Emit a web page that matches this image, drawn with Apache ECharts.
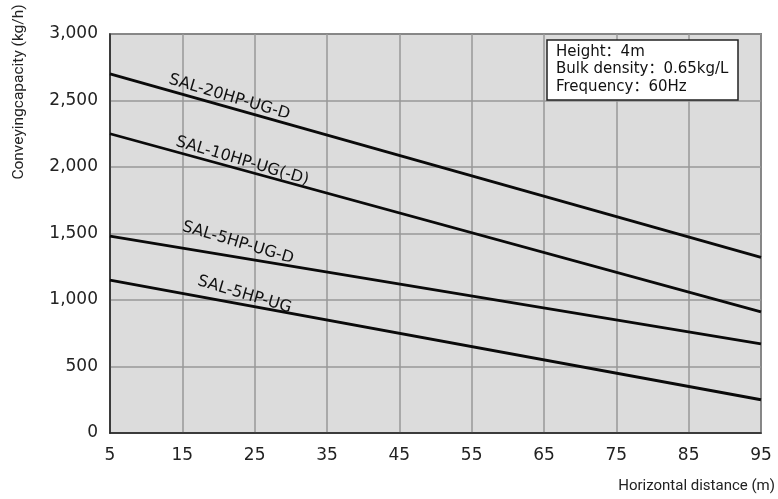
<!DOCTYPE html>
<html><head><meta charset="utf-8">
<script src="https://cdn.jsdelivr.net/npm/echarts@6/dist/echarts.min.js"></script>
<style>html,body{margin:0;padding:0;background:#fff}#c{width:778px;height:499px}</style>
</head><body><div id="c"></div>
<script>
// Data
const distances = [5, 95];                 // Horizontal distance (m)
const sal20HPUGD = [2700, 1320];           // SAL-20HP-UG-D
const sal10HPUGD = [2250, 910];            // SAL-10HP-UG(-D)
const sal5HPUGD  = [1480, 670];            // SAL-5HP-UG-D
const sal5HPUG   = [1150, 250];            // SAL-5HP-UG
const seriesNames = ['SAL-20HP-UG-D', 'SAL-10HP-UG(-D)', 'SAL-5HP-UG-D', 'SAL-5HP-UG'];
const labelAnchors = [[21.5, 2525], [23.3, 2045], [22.7, 1430], [23.6, 1040]];
const noteLines = ['Height：4m', 'Bulk density：0.65kg/L', 'Frequency：60Hz'];
const xAxisName = 'Horizontal distance (m)';
const yAxisName = 'Conveyingcapacity (kg/h)';

const allValues = [sal20HPUGD, sal10HPUGD, sal5HPUGD, sal5HPUG];
const font = 'DejaVu Sans';
const noteFont = '"DejaVu Sans", "Noto Sans CJK SC"';

const chart = echarts.init(document.getElementById('c'), null, {renderer: 'canvas'});
const series = allValues.map((vals, i) => ({
  name: seriesNames[i],
  type: 'line',
  data: vals.map((v, j) => [distances[j], v]),
  symbol: 'none',
  lineStyle: {color: '#0a0a0a', width: 2.8},
  silent: true,
  markPoint: {
    symbol: 'circle', symbolSize: 0,
    data: [{coord: labelAnchors[i], value: seriesNames[i]}],
    label: {
      show: true, position: 'inside', formatter: seriesNames[i],
      rotate: -16.5, color: '#111', fontFamily: font, fontSize: 16
    }
  }
}));

chart.setOption({
  animation: false,
  grid: {left: 110, right: 15, top: 34, bottom: 66, show: true,
    backgroundColor: '#dcdcdc', borderColor: '#222', borderWidth: 1.5},
  xAxis: {
    type: 'value', min: 5, max: 95, interval: 10,
    name: xAxisName, nameLocation: 'end', nameGap: 14,
    nameTextStyle: {align: 'right', verticalAlign: 'top', padding: [46, 0, 0, 0],
      fontFamily: 'Roboto', fontSize: 15, color: '#222'},
    axisLine: {show: true, lineStyle: {color: '#222', width: 1.5}},
    axisTick: {show: false},
    axisLabel: {margin: 14, fontFamily: font, fontSize: 17, color: '#222'},
    splitLine: {show: true, lineStyle: {color: '#999', width: 1.5}}
  },
  yAxis: {
    type: 'value', min: 0, max: 3000, interval: 500,
    axisLine: {show: true, lineStyle: {color: '#222', width: 1.5}},
    axisTick: {show: false},
    axisLabel: {margin: 12, fontFamily: font, fontSize: 17, color: '#222',
      formatter: v => v.toLocaleString('en-US')},
    splitLine: {show: true, lineStyle: {color: '#999', width: 1.5}}
  },
  graphic: [
    {type: 'text', x: 19, y: 92, rotation: Math.PI / 2,
      style: {text: yAxisName, fontFamily: 'Roboto', fontSize: 15.5, fill: '#222',
        align: 'center', verticalAlign: 'middle'}},
    {type: 'rect', shape: {x: 547, y: 40, width: 191, height: 60}, z: 100,
      style: {fill: '#fff', stroke: '#222', lineWidth: 1.5}},
    {type: 'text', x: 556, y: 43, z: 101,
      style: {text: noteLines.join('\n'), fontFamily: noteFont, fontSize: 15, lineHeight: 17.5,
        fill: '#111', align: 'left', verticalAlign: 'top'}}
  ],
  series: series
});
</script></body></html>
